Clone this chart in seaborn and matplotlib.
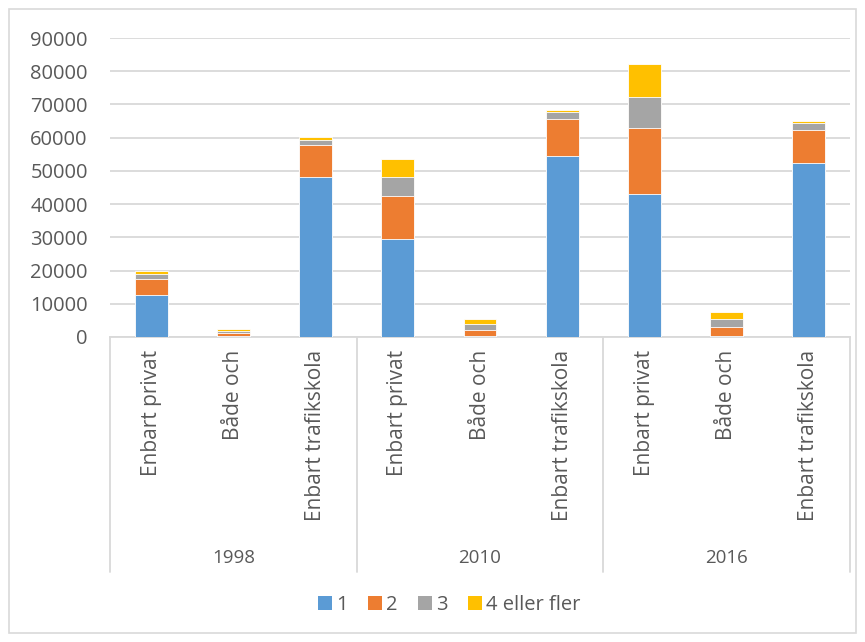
import matplotlib
matplotlib.use("Agg")
import matplotlib.pyplot as plt
import matplotlib.patches as mpatches
import matplotlib.transforms as mtransforms
import numpy as np
import pandas as pd
import seaborn as sns

# Data: number of people per licence route, split by number of attempts
years = ["1998", "2010", "2016"]
routes = ["Enbart privat", "Både och", "Enbart trafikskola"]
series_names = ["1", "2", "3", "4 eller fler"]

s1 = [12600, 300, 48300, 29600, 300, 54600, 43100, 300, 52300]
s2 = [5000, 800, 9500, 12900, 1800, 11000, 19900, 2800, 10100]
s3 = [1400, 700, 1500, 5700, 1700, 2000, 9300, 2400, 2100]
s4 = [1000, 700, 800, 5400, 1500, 600, 9900, 2100, 600]

colors = ["#5B9BD5", "#ED7D31", "#A5A5A5", "#FFC000"]
text_color = "#595959"
grid_color = "#D9D9D9"

sns.set_theme(style="white")
plt.rcParams["font.family"] = ["Open Sans", "DejaVu Sans"]

keys = [f"{y}|{r}" for y in years for r in routes]
df = pd.DataFrame({"key": keys, "1": s1, "2": s2, "3": s3, "4 eller fler": s4})
layers = df[series_names].cumsum(axis=1)

fig = plt.figure(figsize=(8.65, 6.42), dpi=100)
ax = fig.add_axes([110 / 865, 1 - 337 / 642, 740 / 865, 299 / 642])

# Stacked bars: draw cumulative totals from the top layer down
for name, color in reversed(list(zip(series_names, colors))):
    sns.barplot(x=df["key"], y=layers[name], order=keys, color=color,
                width=0.4, saturation=1, edgecolor="white", linewidth=0.6,
                ax=ax, zorder=3)

ax.set_ylim(0, 90000)
ax.set_xlim(-0.5, 8.5)
ax.set_yticks(np.arange(0, 90001, 10000))
ax.yaxis.grid(True, color=grid_color, linewidth=1.3, zorder=0)
ax.set_axisbelow(True)
for sp in ["top", "right", "left"]:
    ax.spines[sp].set_visible(False)
ax.spines["bottom"].set_color(grid_color)
ax.spines["bottom"].set_linewidth(1.3)
ax.set_xlabel("")
ax.set_ylabel("")

ax.tick_params(axis="y", length=0, pad=16, labelsize=14.5, labelcolor=text_color)
ax.set_xticks(range(len(keys)))
ax.set_xticklabels([k.split("|")[1] for k in keys], rotation=90,
                   ha="center", va="top")
ax.tick_params(axis="x", length=0, pad=9, labelsize=15, labelcolor=text_color)

# Group separators and year labels below the category axis
trans = mtransforms.blended_transform_factory(ax.transData, ax.transAxes)
for xpos in [-0.5, 2.5, 5.5, 8.5]:
    ax.plot([xpos, xpos], [0, -0.785], transform=trans, color=grid_color,
            linewidth=1.3, clip_on=False)
for i, y in enumerate(years):
    ax.text(3 * i + 1, -0.74, y, transform=trans, ha="center", va="center",
            fontsize=13.5, color=text_color)

# Legend
handles = [mpatches.Patch(facecolor=c, edgecolor="none", label=n)
           for n, c in zip(series_names, colors)]
fig.legend(handles=handles, loc="center", bbox_to_anchor=(449 / 865, 1 - 605 / 642),
           ncol=4, frameon=False, fontsize=14.5, labelcolor=text_color,
           handlelength=0.7, handleheight=0.7, handletextpad=0.2,
           columnspacing=1.0)

# Chart area border
fig.patches.append(mpatches.Rectangle((9 / 865, 9 / 642), 847 / 865, 624 / 642,
                                      transform=fig.transFigure, fill=False,
                                      edgecolor=grid_color, linewidth=1.2))

fig.savefig("out.png", dpi=100)
